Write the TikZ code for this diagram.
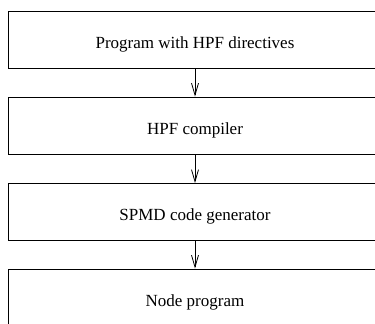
\documentclass[tikz,border=0pt]{standalone}
\usepackage{fontspec}
\setmainfont{Liberation Serif}
\usetikzlibrary{arrows.meta}
\begin{document}
\begin{tikzpicture}[x=1pt,y=-1pt,
  stagebox/.style={draw, line width=0.9pt, minimum width=374pt, minimum height=57pt,
    inner sep=0pt, text height=17pt, text depth=0pt,
    font=\fontsize{17}{20}\selectfont, anchor=center},
  flowarrow/.style={draw, line width=0.8pt, -{Straight Barb[length=12pt,width=7pt,line width=0.8pt]}}]
\useasboundingbox (0,0) rectangle (375,324);
\clip (0,0) rectangle (375,324);
\node[stagebox] (a) at (195,39.5) {Program with HPF directives};
\node[stagebox] (b) at (195,125.5) {HPF compiler};
\node[stagebox] (c) at (195,212) {SPMD code generator};
\node[stagebox] (d) at (195,297.5) {Node program};
\draw[flowarrow] (a.south) -- (b.north);
\draw[flowarrow] (b.south) -- (c.north);
\draw[flowarrow] (c.south) -- (d.north);
\end{tikzpicture}
\end{document}
